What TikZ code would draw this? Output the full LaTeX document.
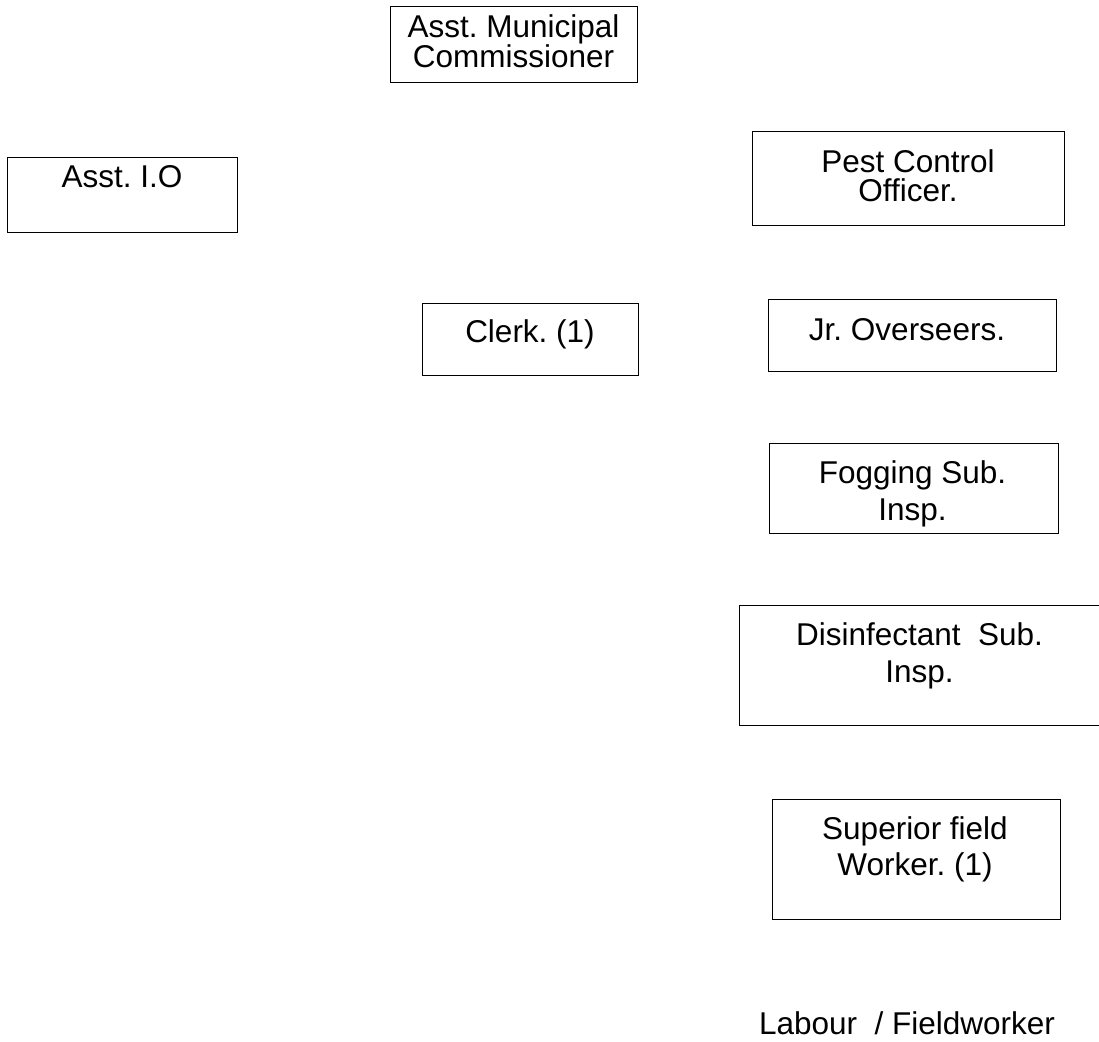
\documentclass[tikz,border=0pt]{standalone}
\usepackage{fontspec}
\setmainfont{Liberation Sans}
\frenchspacing

\begin{document}
\begin{tikzpicture}[x=1pt,y=-1pt,
  box/.style={draw, line width=1pt, inner sep=0pt, anchor=north west},
  lbl/.style={anchor=north, inner sep=0pt, align=center, font=\fontsize{31.5}{36}\selectfont}]
 \useasboundingbox (0,0) rectangle (1099,1041);

 \node[box, minimum width=247, minimum height=76] (amc) at (390,6) {};
 \node[lbl, font=\fontsize{31.5}{29}\selectfont] (amct) at (513.5,14) {Asst. Municipal\\Commissioner};

 \node[box, minimum width=230, minimum height=75] (aio) at (7,157) {};
 \node[lbl] (aiot) at (122,165) {Asst. I.O};

 \node[box, minimum width=312, minimum height=94] (pco) at (752,131) {};
 \node[lbl, font=\fontsize{31.5}{29}\selectfont] (pcot) at (908,149) {Pest Control\\Officer.};

 \node[box, minimum width=216, minimum height=72] (clk) at (422,303) {};
 \node[lbl] (clkt) at (530,319) {Clerk. (1)};

 \node[box, minimum width=288, minimum height=72] (jro) at (768,299) {};
 \node[lbl] (jrot) at (907,318) {Jr. Overseers.};

 \node[box, minimum width=289, minimum height=90] (fsi) at (769,443) {};
 \node[lbl, font=\fontsize{31.5}{37}\selectfont] (fsit) at (912.5,460) {Fogging Sub.\\Insp.};

 \node[box, minimum width=362, minimum height=120] (dsi) at (739,605) {};
 \node[lbl, font=\fontsize{31.5}{37}\selectfont] (dsit) at (919.5,622) {Disinfectant~ Sub.\\Insp.};

 \node[box, minimum width=288, minimum height=120] (sfw) at (772,799) {};
 \node[lbl] (sfwt) at (915,816) {Superior field\\Worker. (1)};

 \node[lbl] (lab) at (907,1011) {Labour~ / Fieldworker};

\end{tikzpicture}
\end{document}
